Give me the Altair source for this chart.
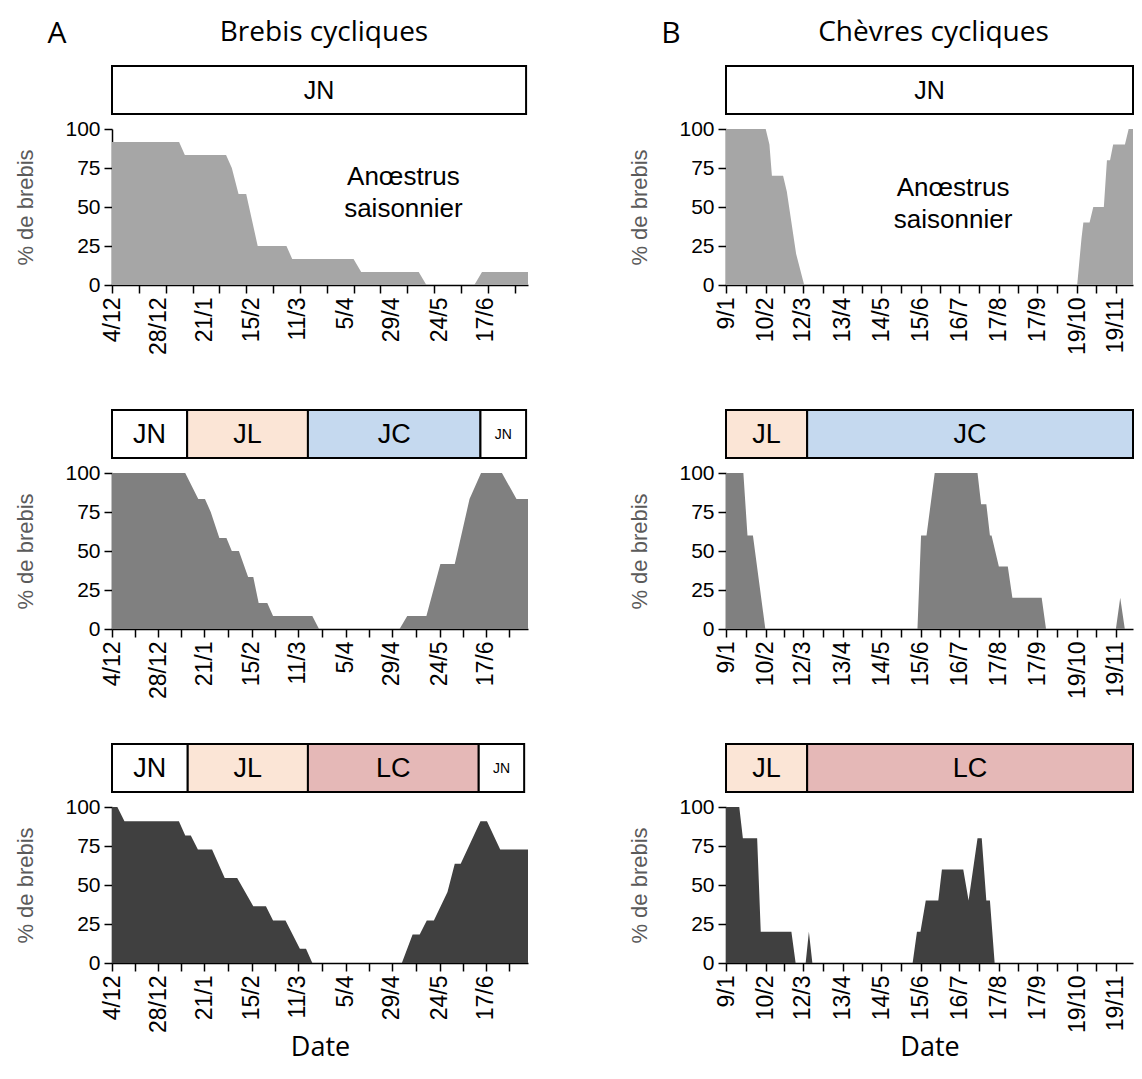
import json
import altair as alt
import pandas as pd

# ---------------- axis calendars ----------------
ewe_label_days = [0, 24, 48, 73, 97, 122, 146, 171, 195]
ewe_label_text = ["4/12", "28/12", "21/1", "15/2", "11/3", "5/4", "29/4", "24/5", "17/6"]
ewe_top_tick_days = [0, 14, 28, 42, 56, 70, 84, 98, 112, 126, 140, 154, 168, 182, 196, 210]
ewe_mid_tick_days = [12, 36, 60.5, 85, 109.5, 134, 158.5, 183, 207]
ewe_domain = [0, 217]

goat_label_days = [0, 32, 62, 94, 125, 157, 188, 220, 251, 283, 314]
goat_label_text = ["9/1", "10/2", "12/3", "13/4", "14/5", "15/6", "16/7", "17/8", "17/9", "19/10", "19/11"]
goat_mid_tick_days = [16, 47, 78, 109.5, 141, 172.5, 204, 235.5, 267, 298.5]
goat_domain = [0, 328]

pct_ticks = [0, 25, 50, 75, 100]

# ---------------- series (% cycling) ----------------
ewe_jn_day = [0, 35, 38, 59.5, 62.5, 66, 70, 76, 91, 94, 126, 130, 160, 164, 189, 193, 217]
ewe_jn_pct = [91.7, 91.7, 83.3, 83.3, 75, 58.3, 58.3, 25, 25, 16.7, 16.7, 8.3, 8.3, 0, 0, 8.3, 8.3]

goat_jn_day = [0, 32, 35, 37, 46, 49, 56.5, 63, 283, 286.5, 288, 293, 296, 304.5, 307, 309.5,
               312, 321.5, 324.5, 328]
goat_jn_pct = [100, 100, 90, 70, 70, 60, 20, 0, 0, 30, 40, 40, 50, 50, 80, 80, 90, 90, 100, 100]

ewe_jc_day = [0, 38.2, 45, 48.5, 51.5, 56, 59.7, 62.5, 66.2, 71, 73.7, 76.5, 81, 84, 104.5, 108,
              150, 154, 164, 171.3, 178.8, 186.5, 192.5, 203.4, 211, 217]
ewe_jc_pct = [100, 100, 83.3, 83.3, 75, 58.3, 58.3, 50, 50, 33.3, 33.3, 16.7, 16.7, 8.3, 8.3, 0,
              0, 8.3, 8.3, 41.7, 41.7, 83.3, 100, 100, 83.3, 83.3]

goat_jc_day = [0, 14, 17.3, 21.7, 31.7, 154.3, 157.2, 161.6, 168.2, 202.7, 205.6, 209.8, 212.7,
               214, 219.9, 227.1, 230.8, 254.4, 257.9, 314.2, 317.7, 321.4, 328]
goat_jc_pct = [100, 100, 60, 60, 0, 0, 60, 60, 100, 100, 80, 80, 60, 60, 40, 40, 20, 20, 0, 0,
               20, 0, 0]

ewe_lc_day = [0, 2.8, 6.5, 34.9, 38.2, 41.1, 44.8, 52.2, 58.8, 65.3, 73.7, 80.3, 84, 90.5, 98,
              101.2, 104.5, 151.2, 156.8, 160.5, 164.2, 167.9, 175, 178.8, 181.9, 192.2, 195.6,
              202.5, 217]
ewe_lc_pct = [100, 100, 90.9, 90.9, 81.8, 81.8, 72.7, 72.7, 54.5, 54.5, 36.4, 36.4, 27.3, 27.3,
              9.1, 9.1, 0, 0, 18.2, 18.2, 27.3, 27.3, 45.5, 63.6, 63.6, 90.9, 90.9, 72.7, 72.7]

goat_lc_day = [0, 10.7, 13.6, 25.1, 28, 52.7, 56.1, 64.2, 66.8, 69.6, 150.4, 153.9, 156.7, 161,
               171.1, 174, 191.2, 195.5, 202.7, 206.1, 209.8, 212.7, 216.5, 328]
goat_lc_pct = [100, 100, 80, 80, 20, 20, 0, 0, 20, 0, 0, 20, 20, 40, 40, 60, 60, 40, 80, 80, 40,
               40, 0, 0]

# ---------------- photoperiod bars ----------------
ewe_jn_seg_start = [0]
ewe_jn_seg_end = [216]
ewe_jn_seg_label = ["JN"]
ewe_jn_seg_color = ["#ffffff"]
ewe_jn_seg_size = [25]

ewe_jc_seg_start = [0, 39.2, 102.2, 192.2]
ewe_jc_seg_end = [39.2, 102.2, 192.2, 216]
ewe_jc_seg_label = ["JN", "JL", "JC", "JN"]
ewe_jc_seg_color = ["#ffffff", "#fbe5d6", "#c5d9ef", "#ffffff"]
ewe_jc_seg_size = [27, 27, 27, 14]

ewe_lc_seg_start = [0, 39.5, 102.2, 191.3]
ewe_lc_seg_end = [39.5, 102.2, 191.3, 215]
ewe_lc_seg_label = ["JN", "JL", "LC", "JN"]
ewe_lc_seg_color = ["#ffffff", "#fbe5d6", "#e5b8b7", "#ffffff"]
ewe_lc_seg_size = [27, 27, 27, 14]

goat_jn_seg_start = [0]
goat_jn_seg_end = [328]
goat_jn_seg_label = ["JN"]
goat_jn_seg_color = ["#ffffff"]
goat_jn_seg_size = [25]

goat_jc_seg_start = [0, 65.4]
goat_jc_seg_end = [65.4, 328]
goat_jc_seg_label = ["JL", "JC"]
goat_jc_seg_color = ["#fbe5d6", "#c5d9ef"]
goat_jc_seg_size = [27, 27]

goat_lc_seg_start = [0, 65.4]
goat_lc_seg_end = [65.4, 328]
goat_lc_seg_label = ["JL", "LC"]
goat_lc_seg_color = ["#fbe5d6", "#e5b8b7"]
goat_lc_seg_size = [27, 27]

area_colors = ["#a6a6a6", "#808080", "#404040"]
annotation_text = "Anœstrus\nsaisonnier"
ewe_note_pos = [152, 69.5]
goat_note_pos = [183, 62]

W = 416
W_RIGHT = 407
BOX_H = 48
PLOT_H = 156
LABEL_FONT = "Liberation Sans"
TITLE_FONT = "Open Sans"


def x_axis(label_days, label_text, tick_days, hide_ticks=None, date_title=False):
    values = sorted(set(label_days) | set(tick_days))
    d = json.dumps(label_days)
    lab = json.dumps(label_text)
    expr = f"indexof({d}, datum.value) >= 0 ? {lab}[indexof({d}, datum.value)] : ''"
    kw = dict(values=values, labelExpr=expr, labelAngle=270, labelFlush=False,
              labelOverlap=False, tickSize=8, labelPadding=4, labelFont=LABEL_FONT,
              labelFontSize=23, labelColor="black", grid=False)
    if hide_ticks:
        kw["tickOpacity"] = {"condition": {"test": f"indexof({json.dumps(hide_ticks)}, datum.value) >= 0",
                                           "value": 0}, "value": 1}
    if date_title:
        kw.update(title="Date", titleFont=TITLE_FONT, titleFontSize=27, titleFontWeight="normal",
                  titleColor="black", titlePadding=2)
    else:
        kw["title"] = None
    return alt.Axis(**kw)


def y_axis():
    return alt.Axis(values=pct_ticks, title="% de brebis", titleFont=LABEL_FONT,
                    titleFontSize=22, titleFontWeight="normal", titleColor="#5a5a5a",
                    titlePadding=27, tickSize=8, labelPadding=4, labelFont=LABEL_FONT,
                    labelFontSize=21, labelColor="black", grid=False)


def bar_chart(start, end, label, color, size, domain, width, title=None, letter=None):
    seg = pd.DataFrame({"start": start, "end": end, "label": label, "color": color, "size": size})
    xs = alt.Scale(domain=domain, nice=False, zero=False)
    rect = alt.Chart(seg).mark_rect(stroke="black", strokeWidth=2).encode(
        x=alt.X("start:Q", scale=xs, axis=None),
        x2="end:Q",
        y=alt.value(0),
        y2=alt.value(BOX_H),
        fill=alt.Fill("color:N", scale=None),
    )
    txt = alt.Chart(seg).transform_calculate(mid="(datum.start + datum.end) / 2").mark_text(
        font=LABEL_FONT, color="black", baseline="middle").encode(
        x=alt.X("mid:Q", scale=xs, axis=None),
        y=alt.value(BOX_H / 2 + 1),
        text="label:N",
        size=alt.Size("size:Q", scale=None, legend=None),
    )
    layers = [rect, txt]
    if title is not None:
        hd = pd.DataFrame({"t": [letter, title], "pos": ["letter", "title"]})
        lt = alt.Chart(hd).transform_filter("datum.pos == 'letter'").mark_text(
            font=TITLE_FONT, fontSize=30, color="black", align="center",
            baseline="alphabetic").encode(x=alt.value(-55), y=alt.value(-23), text="t:N")
        tt = alt.Chart(hd).transform_filter("datum.pos == 'title'").mark_text(
            font=TITLE_FONT, fontSize=28, color="black", align="center",
            baseline="alphabetic").encode(x=alt.value(width / 2 + 4), y=alt.value(-25), text="t:N")
        layers += [lt, tt]
    return alt.layer(*layers).properties(width=width, height=BOX_H)


def area_chart(day, pct, color, domain, width, axis, note=None):
    df = pd.DataFrame({"day": day, "pct": pct})
    xs = alt.Scale(domain=domain, nice=False, zero=False)
    ys = alt.Scale(domain=[0, 100], nice=False)
    area = alt.Chart(df).mark_area(color=color, interpolate="linear", opacity=1).encode(
        x=alt.X("day:Q", scale=xs, axis=axis),
        y=alt.Y("pct:Q", scale=ys, axis=y_axis()),
    )
    layers = [area]
    if note is not None:
        ndf = pd.DataFrame({"day": [note[0]], "pct": [note[1]], "t": [annotation_text]})
        layers.append(alt.Chart(ndf).mark_text(font=LABEL_FONT, fontSize=26, color="black",
                                               lineBreak="\n", lineHeight=32).encode(
            x=alt.X("day:Q", scale=xs, axis=axis), y=alt.Y("pct:Q", scale=ys, axis=y_axis()),
            text="t:N"))
    return alt.layer(*layers).properties(width=width, height=PLOT_H)


def panel(bar, area):
    return alt.vconcat(bar, area, spacing=15, bounds="flush")


def column(p1, p2, p3):
    return alt.vconcat(alt.vconcat(p1, p2, spacing=54), p3, spacing=44)


ewe_top_hide = [d for d in ewe_label_days if d not in ewe_top_tick_days]

left = column(
    panel(bar_chart(ewe_jn_seg_start, ewe_jn_seg_end, ewe_jn_seg_label, ewe_jn_seg_color,
                    ewe_jn_seg_size, ewe_domain, W, "Brebis cycliques", "A"),
          area_chart(ewe_jn_day, ewe_jn_pct, area_colors[0], ewe_domain, W,
                     x_axis(ewe_label_days, ewe_label_text, ewe_top_tick_days, ewe_top_hide),
                     ewe_note_pos)),
    panel(bar_chart(ewe_jc_seg_start, ewe_jc_seg_end, ewe_jc_seg_label, ewe_jc_seg_color,
                    ewe_jc_seg_size, ewe_domain, W),
          area_chart(ewe_jc_day, ewe_jc_pct, area_colors[1], ewe_domain, W,
                     x_axis(ewe_label_days, ewe_label_text, ewe_mid_tick_days))),
    panel(bar_chart(ewe_lc_seg_start, ewe_lc_seg_end, ewe_lc_seg_label, ewe_lc_seg_color,
                    ewe_lc_seg_size, ewe_domain, W),
          area_chart(ewe_lc_day, ewe_lc_pct, area_colors[2], ewe_domain, W,
                     x_axis(ewe_label_days, ewe_label_text, ewe_mid_tick_days, date_title=True))),
)

right = column(
    panel(bar_chart(goat_jn_seg_start, goat_jn_seg_end, goat_jn_seg_label, goat_jn_seg_color,
                    goat_jn_seg_size, goat_domain, W_RIGHT, "Chèvres cycliques", "B"),
          area_chart(goat_jn_day, goat_jn_pct, area_colors[0], goat_domain, W_RIGHT,
                     x_axis(goat_label_days, goat_label_text, goat_mid_tick_days),
                     goat_note_pos)),
    panel(bar_chart(goat_jc_seg_start, goat_jc_seg_end, goat_jc_seg_label, goat_jc_seg_color,
                    goat_jc_seg_size, goat_domain, W_RIGHT),
          area_chart(goat_jc_day, goat_jc_pct, area_colors[1], goat_domain, W_RIGHT,
                     x_axis(goat_label_days, goat_label_text, goat_mid_tick_days))),
    panel(bar_chart(goat_lc_seg_start, goat_lc_seg_end, goat_lc_seg_label, goat_lc_seg_color,
                    goat_lc_seg_size, goat_domain, W_RIGHT),
          area_chart(goat_lc_day, goat_lc_pct, area_colors[2], goat_domain, W_RIGHT,
                     x_axis(goat_label_days, goat_label_text, goat_mid_tick_days, date_title=True))),
)

chart = alt.hconcat(left, right, spacing=100).properties(
    padding={"left": 6, "top": 11, "right": 0, "bottom": 5},
    background="white",
).configure_view(stroke=None).configure_axis(
    domainColor="black", tickColor="black", domainWidth=1.5, tickWidth=1.5,
)

chart.save("out.html", embed_options={"renderer": "svg", "actions": False})
